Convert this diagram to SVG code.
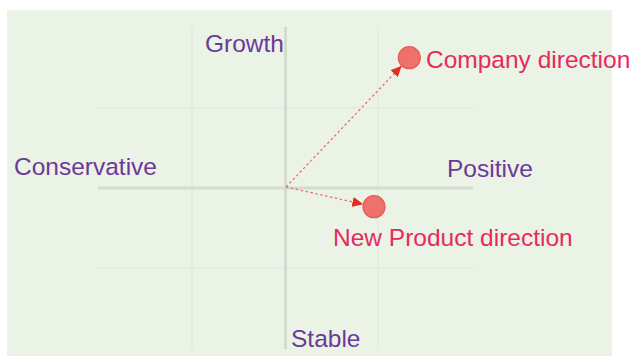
<svg xmlns="http://www.w3.org/2000/svg" width="630" height="356" viewBox="0 0 630 356">
<defs>
<style>
.axis{stroke:#d4dbd0;stroke-width:3;fill:none}
.grid{stroke:#e0e6dc;stroke-width:1;fill:none}
.lbl{font-family:"Liberation Sans",Arial,sans-serif;font-size:24.5px;fill:#6b3a98}
.plbl{font-family:"Liberation Sans",Arial,sans-serif;font-size:24.5px;fill:#e62a5e}
.conn{stroke:#ea6e68;stroke-width:1.3;stroke-dasharray:2.5,2.5;fill:none}
.dot{fill:#ee716b;stroke:#e85a56;stroke-width:1.2}
</style>
<marker id="arr" markerUnits="userSpaceOnUse" markerWidth="12" markerHeight="10" refX="11" refY="5" orient="auto">
<path d="M0,0 L11,5 L0,10 Z" fill="#e82a22"/>
</marker>
</defs>
<rect x="7" y="10" width="605" height="346" fill="#ebf2e6"/>
<g id="grid">
<line class="grid" x1="192" y1="27" x2="192" y2="349"/>
<line class="grid" x1="378" y1="27" x2="378" y2="349"/>
<line class="grid" x1="98" y1="108" x2="473" y2="108"/>
<line class="grid" x1="98" y1="268" x2="473" y2="268"/>
<line class="axis" x1="285.5" y1="27" x2="285.5" y2="349"/>
<line class="axis" x1="98" y1="188" x2="473" y2="188"/>
</g>
<g id="axis-labels">
<text class="lbl" x="205" y="52">Growth</text>
<text class="lbl" x="14" y="175">Conservative</text>
<text class="lbl" x="447" y="177">Positive</text>
<text class="lbl" x="291" y="347">Stable</text>
</g>
<g id="connectors">
<line class="conn" x1="286" y1="187" x2="401.7" y2="65.7" marker-end="url(#arr)"/>
<line class="conn" x1="286" y1="187" x2="363.3" y2="204.3" marker-end="url(#arr)"/>
</g>
<g id="company">
<circle class="dot" cx="409.3" cy="57.7" r="11"/>
<text class="plbl" x="426" y="68">Company direction</text>
</g>
<g id="new-product">
<circle class="dot" cx="374" cy="206.7" r="11"/>
<text class="plbl" x="333" y="246">New Product direction</text>
</g>
</svg>
